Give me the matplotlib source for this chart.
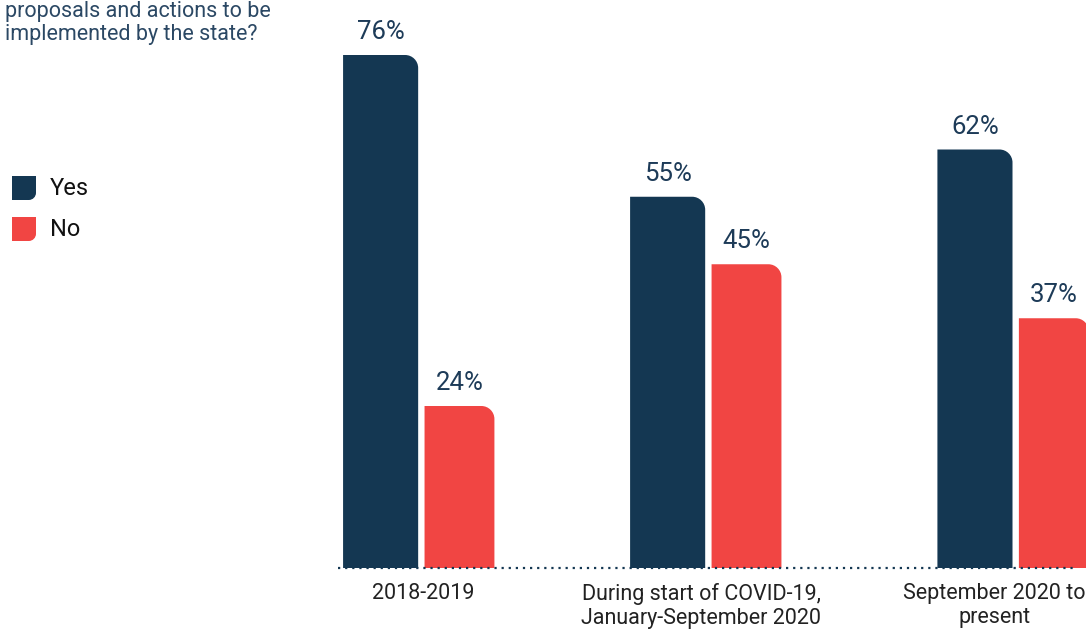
import numpy as np
import matplotlib.pyplot as plt
from matplotlib.path import Path
from matplotlib.patches import PathPatch

plt.rcParams['font.family'] = ['Roboto', 'DejaVu Sans']

periods = ["2018-2019", "During start of COVID-19,\nJanuary-September 2020", "September 2020 to\npresent"]
yes_vals = [76, 55, 62]
no_vals = [24, 45, 37]
question = "proposals and actions to be\nimplemented by the state?"

NAVY = '#143752'
RED = '#f14543'
TEXT = '#1d3b58'

group_x = np.array([0.0, 0.99, 2.05])
tick_x = np.array([0.01, 0.97, 1.98])


def rounded_top_right(ax, x0, w, h, r_px=13):
    # bar with only its top-right corner rounded (radius in pixels)
    sx = ax.transData.transform((1, 0))[0] - ax.transData.transform((0, 0))[0]
    sy = ax.transData.transform((0, 1))[1] - ax.transData.transform((0, 0))[1]
    rx, ry = r_px / sx, r_px / sy
    k = 0.55
    x1 = x0 + w
    verts = [(x0, 0), (x1, 0), (x1, h - ry),
             (x1, h - ry + k * ry), (x1 - rx + k * rx, h), (x1 - rx, h),
             (x0, h), (x0, 0)]
    codes = [Path.MOVETO, Path.LINETO, Path.LINETO,
             Path.CURVE4, Path.CURVE4, Path.CURVE4,
             Path.LINETO, Path.CLOSEPOLY]
    return Path(verts, codes)


fig = plt.figure(figsize=(10.86, 6.3), dpi=100)
ax = fig.add_axes([338 / 1086, 62 / 630, (1086 - 338) / 1086, 540 / 630])
ax.set_xlim(-0.283, 2.297)
ax.set_ylim(0, 80)

yes_w, no_w = 0.259, 0.241
off = 0.136
yes_bars = ax.bar(group_x - off, yes_vals, width=yes_w, color=NAVY)
no_bars = ax.bar(group_x + off, no_vals, width=no_w, color=RED)

# swap the plain rectangles for ones with a rounded top-right corner
for bars, col in [(yes_bars, NAVY), (no_bars, RED)]:
    for rect in bars:
        rect.set_visible(False)
        p = rounded_top_right(ax, rect.get_x(), rect.get_width(), rect.get_height())
        ax.add_patch(PathPatch(p, facecolor=col, edgecolor='none', zorder=2))
        ax.text(rect.get_x() + rect.get_width() / 2, rect.get_height() + 1.6,
                f"{rect.get_height():.0f}%", ha='center', va='bottom',
                fontsize=18.5, color=TEXT)

ax.plot([-0.283, 2.257], [0, 0], linestyle=(0, (1, 2.2)), color=NAVY,
        linewidth=1.6, zorder=3, clip_on=False)

ax.set_xticks(tick_x)
ax.set_xticklabels(periods, fontsize=15.5, color='#222222', linespacing=1.15)
ax.tick_params(axis='x', length=0, pad=11)
ax.set_yticks([])
for s in ax.spines.values():
    s.set_visible(False)

# legend squares (bottom-right corner rounded)
for i, (lab, col) in enumerate([("Yes", NAVY), ("No", RED)]):
    lax = fig.add_axes([12 / 1086, (630 - 200 - i * 41) / 630, 24 / 1086, 24 / 630])
    lax.set_xlim(0, 1)
    lax.set_ylim(0, 1)
    lax.axis('off')
    r = 0.3
    k = 0.55
    verts = [(0, 0), (1 - r, 0), (1 - r + k * r, 0), (1, r - k * r), (1, r),
             (1, 1), (0, 1), (0, 0)]
    codes = [Path.MOVETO, Path.LINETO, Path.CURVE4, Path.CURVE4, Path.CURVE4,
             Path.LINETO, Path.LINETO, Path.CLOSEPOLY]
    lax.add_patch(PathPatch(Path(verts, codes), facecolor=col, edgecolor='none'))
    fig.text(50 / 1086, (630 - 188 - i * 41) / 630, lab, fontsize=17,
             color='#111111', va='center', ha='left')

fig.text(5 / 1086, 1 - 45 / 630, question, fontsize=15.5, color='#2b4864',
         ha='left', va='bottom', linespacing=1.12)

fig.savefig('out.png', dpi=100)
